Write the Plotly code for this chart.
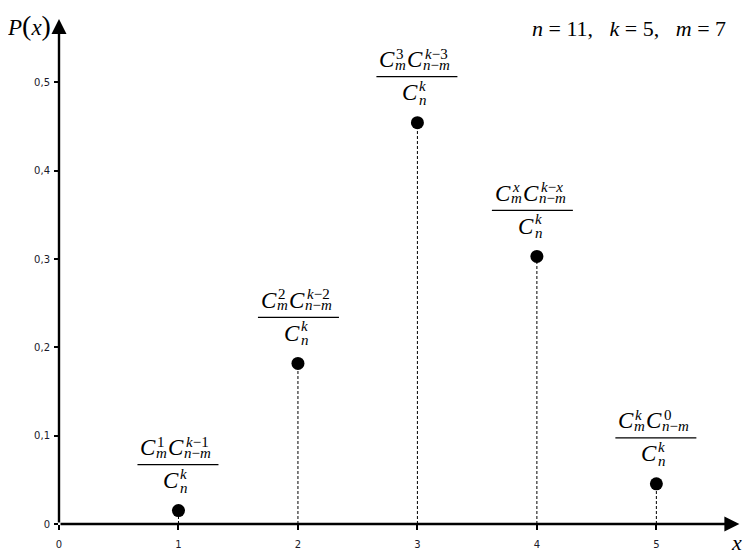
import plotly.graph_objects as go

# ---- data ----
x_vals = [1, 2, 3, 4, 5]
p_vals = [0.0152, 0.1818, 0.4545, 0.3030, 0.0455]

x_ticks = [0, 1, 2, 3, 4, 5]
x_ticktext = ["0", "1", "2", "3", "4", "5"]
y_ticks = [0, 0.1, 0.2, 0.3, 0.4, 0.5]
y_ticktext = ["0", "0,1", "0,2", "0,3", "0,4", "0,5"]

num_sup1 = ["1", "2", "3", "<i>x</i>", "<i>k</i>"]
num_sub1 = ["<i>m</i>"] * 5
num_sup2 = ["<i>k</i>−1", "<i>k</i>−2", "<i>k</i>−3", "<i>k</i>−<i>x</i>", "0"]
num_sub2 = ["<i>n</i>−<i>m</i>"] * 5
den_sup = ["<i>k</i>"] * 5
den_sub = ["<i>n</i>"] * 5
label_dx = [0, 1, 0, -4, 0]

params_text = "<i>n</i> = 11,&nbsp;&nbsp;&nbsp;<i>k</i> = 5,&nbsp;&nbsp;&nbsp;<i>m</i> = 7"

X_MAX = 5.7
Y_MAX = 0.573

SERIF = "Liberation Serif"
fig = go.Figure()

# dashed droplines
for xv, pv in zip(x_vals, p_vals):
    fig.add_trace(go.Scatter(x=[xv, xv], y=[0, pv], mode="lines",
                             line=dict(color="black", width=1, dash="3px,2px"),
                             hoverinfo="skip", showlegend=False))

fig.add_trace(go.Scatter(x=x_vals, y=p_vals, mode="markers",
                         marker=dict(color="black", size=13),
                         hoverinfo="skip", showlegend=False))

ann = []
shapes = []


def txt(xv, yv, dx, dy, text, size, anchor="left"):
    ann.append(dict(x=xv, y=yv, xref="x", yref="y", xshift=dx, yshift=dy,
                    text=text, showarrow=False, xanchor=anchor, yanchor="middle",
                    borderpad=0, font=dict(family=SERIF, size=size, color="black")))


L = 46  # fraction bar height above point (px)
for i, (xv, pv) in enumerate(zip(x_vals, p_vals)):
    d = label_dx[i]
    # numerator
    txt(xv, pv, d - 39, L + 17, "<i>C</i>", 23)
    txt(xv, pv, d - 22, L + 23, num_sup1[i], 15)
    txt(xv, pv, d - 23, L + 12, num_sub1[i], 15)
    txt(xv, pv, d - 11, L + 17, "<i>C</i>", 23)
    txt(xv, pv, d + 7, L + 23, num_sup2[i], 15)
    txt(xv, pv, d + 5, L + 12, num_sub2[i], 15)
    # bar
    shapes.append(dict(type="line", xref="x", yref="y",
                       xsizemode="pixel", ysizemode="pixel",
                       xanchor=xv, yanchor=pv,
                       x0=d - 41, x1=d + 40, y0=L, y1=L,
                       line=dict(color="black", width=1.3)))
    # denominator
    txt(xv, pv, d - 16, L - 16, "<i>C</i>", 23)
    txt(xv, pv, d + 1, L - 9, den_sup[i], 15)
    txt(xv, pv, d + 1, L - 23, den_sub[i], 15)

# axes with arrowheads
ann.append(dict(x=X_MAX - 0.005, y=0, ax=0, ay=0, xref="x", yref="y", axref="x", ayref="y",
                text="", showarrow=True, arrowhead=2, arrowsize=1.25, arrowwidth=2.4,
                arrowcolor="black", standoff=0, startstandoff=0))
ann.append(dict(x=0, y=Y_MAX - 0.001, ax=0, ay=0, xref="x", yref="y", axref="x", ayref="y",
                text="", showarrow=True, arrowhead=2, arrowsize=1.25, arrowwidth=2.4,
                arrowcolor="black", standoff=0, startstandoff=0))

# axis titles and parameters
ann.append(dict(x=0, y=1, xref="paper", yref="paper", xshift=-30, yshift=-7,
                text="<i>P</i><span style='font-size:28px'>(</span><i>x</i><span style='font-size:28px'>)</span>",
                showarrow=False, xanchor="center", yanchor="middle",
                font=dict(family=SERIF, size=23, color="black")))
ann.append(dict(x=1, y=0, xref="paper", yref="paper", xshift=-4, yshift=-18,
                text="<i>x</i>", showarrow=False, xanchor="center", yanchor="middle",
                font=dict(family=SERIF, size=22, color="black")))
ann.append(dict(x=1, y=1, xref="paper", yref="paper", xshift=-12, yshift=-10,
                text=params_text, showarrow=False, xanchor="right", yanchor="middle",
                font=dict(family=SERIF, size=22, color="black")))

# page body has an 8px margin: size the figure so the plot lands where the reference has it
fig.update_layout(
    width=745, height=546,
    margin=dict(l=51, r=13, t=10, b=30, autoexpand=False),
    paper_bgcolor="white", plot_bgcolor="white",
    showlegend=False,
    annotations=ann, shapes=shapes,
    xaxis=dict(range=[0, X_MAX], showgrid=False, zeroline=False, showline=False,
               automargin=False,
               tickvals=x_ticks, ticktext=x_ticktext, ticks="outside", ticklen=5,
               tickwidth=2, tickcolor="black", ticklabelstandoff=6,
               tickfont=dict(family="DejaVu Sans", size=10, color="#1a1a2a")),
    yaxis=dict(range=[0, Y_MAX], showgrid=False, zeroline=False, showline=False,
               automargin=False,
               tickvals=y_ticks, ticktext=y_ticktext, ticks="outside", ticklen=4,
               tickwidth=2, tickcolor="black", ticklabelstandoff=2,
               tickfont=dict(family="DejaVu Sans", size=10, color="#1a1a2a")),
)

fig.write_html("out.html")
